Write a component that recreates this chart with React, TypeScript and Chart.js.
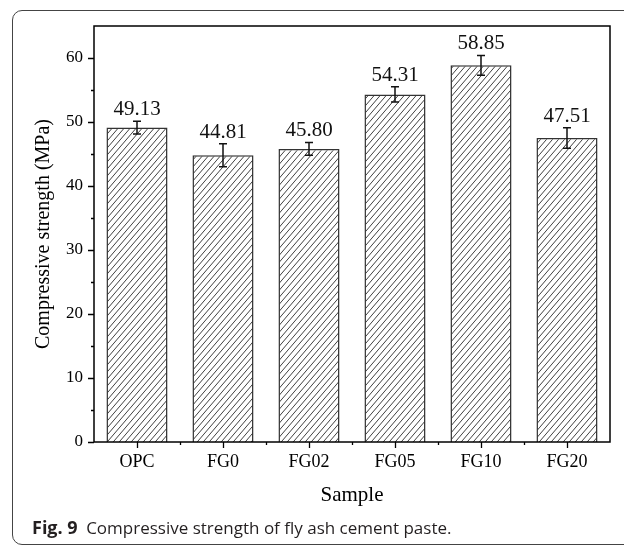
import React, { useEffect, useRef } from "react";
import { Chart, registerables } from "chart.js";

Chart.register(...registerables);

const categories = ["OPC", "FG0", "FG02", "FG05", "FG10", "FG20"];
const strengthValues = [49.13, 44.81, 45.8, 54.31, 58.85, 47.51];
const strengthErrors = [1.0, 1.8, 1.0, 1.2, 1.55, 1.6];
const yTickValues = [0, 10, 20, 30, 40, 50, 60];
const yMinorTicks = [5, 15, 25, 35, 45, 55];

const SERIF = '"Liberation Serif", "Times New Roman", serif';

function makeHatch(): CanvasPattern | string {
  const w = 6;
  const h = 7;
  const c = document.createElement("canvas");
  c.width = w;
  c.height = h;
  const g = c.getContext("2d");
  if (!g) return "#fff";
  g.fillStyle = "#ffffff";
  g.fillRect(0, 0, w, h);
  g.strokeStyle = "#2a2a2a";
  g.lineWidth = 0.9;
  for (const dx of [-w, 0, w]) {
    g.beginPath();
    g.moveTo(dx, h);
    g.lineTo(dx + w, 0);
    g.stroke();
  }
  const p = g.createPattern(c, "repeat");
  return p || "#fff";
}

const overlayPlugin = {
  id: "overlayPlugin",
  afterDatasetsDraw(chart: any) {
    const { ctx, chartArea: a, scales } = chart;
    const x = scales.x;
    const y = scales.y;
    ctx.save();
    // error bars + value labels
    ctx.strokeStyle = "#111";
    ctx.fillStyle = "#111";
    ctx.lineWidth = 1.5;
    strengthValues.forEach((v, i) => {
      const cx = x.getPixelForValue(i);
      const yt = y.getPixelForValue(v + strengthErrors[i]);
      const yb = y.getPixelForValue(v - strengthErrors[i]);
      ctx.beginPath();
      ctx.moveTo(cx, yt);
      ctx.lineTo(cx, yb);
      ctx.moveTo(cx - 4, yt);
      ctx.lineTo(cx + 4, yt);
      ctx.moveTo(cx - 4, yb);
      ctx.lineTo(cx + 4, yb);
      ctx.stroke();
      ctx.font = "21px " + SERIF;
      ctx.textAlign = "center";
      ctx.textBaseline = "alphabetic";
      ctx.fillText(v.toFixed(2), cx, yt - 6);
    });
    // frame box
    ctx.strokeStyle = "#000";
    ctx.lineWidth = 1.5;
    ctx.strokeRect(a.left, a.top, a.right - a.left, a.bottom - a.top);
    // y ticks
    ctx.lineWidth = 1.3;
    ctx.beginPath();
    yTickValues.forEach((t) => {
      const py = Math.round(y.getPixelForValue(t)) + 0.5;
      ctx.moveTo(a.left, py);
      ctx.lineTo(a.left - 6, py);
    });
    yMinorTicks.forEach((t) => {
      const py = Math.round(y.getPixelForValue(t)) + 0.5;
      ctx.moveTo(a.left, py);
      ctx.lineTo(a.left - 3, py);
    });
    // x ticks
    categories.forEach((_, i) => {
      const px = Math.round(x.getPixelForValue(i)) + 0.5;
      ctx.moveTo(px, a.bottom);
      ctx.lineTo(px, a.bottom + 6);
      if (i < categories.length - 1) {
        const bx = Math.round(x.getPixelForValue(i + 0.5)) + 0.5;
        ctx.moveTo(bx, a.bottom);
        ctx.lineTo(bx, a.bottom + 3);
      }
    });
    ctx.stroke();
    // axis titles
    ctx.fillStyle = "#000";
    ctx.font = "21px " + SERIF;
    ctx.textAlign = "center";
    ctx.textBaseline = "middle";
    ctx.fillText("Sample", (a.left + a.right) / 2, 495);
    ctx.save();
    ctx.font = "20px " + SERIF;
    ctx.translate(44, (a.top + a.bottom) / 2);
    ctx.rotate(-Math.PI / 2);
    ctx.fillText("Compressive strength (MPa)", 0, 0);
    ctx.restore();
    ctx.restore();
  },
};

export default function App() {
  const ref = useRef<HTMLCanvasElement | null>(null);

  useEffect(() => {
    if (!ref.current) return;
    const hatch = makeHatch();
    const chart = new Chart(ref.current, {
      type: "bar",
      data: {
        labels: categories,
        datasets: [
          {
            data: strengthValues,
            backgroundColor: hatch as any,
            borderColor: "#333",
            borderWidth: 1.5,
            barPercentage: 0.71,
            categoryPercentage: 1.0,
          },
        ],
      },
      options: {
        animation: false,
        responsive: false,
        devicePixelRatio: 1,
        layout: { padding: { left: 0, right: 14, top: 26, bottom: 0 } },
        plugins: {
          legend: { display: false },
          tooltip: { enabled: false },
        },
        scales: {
          x: {
            grid: { display: false, drawTicks: true, tickLength: 6 },
            border: { display: false },
            ticks: {
              font: { family: SERIF, size: 18 },
              color: "#000",
              padding: 3,
              maxRotation: 0,
            },
            afterFit: (s: any) => {
              s.height = 104;
            },
          },
          y: {
            min: 0,
            max: 65,
            grid: { display: false, drawTicks: true, tickLength: 6 },
            border: { display: false },
            ticks: {
              stepSize: 10,
              includeBounds: false,
              font: { family: SERIF, size: 17 },
              color: "#000",
              padding: 5,
            },
            afterFit: (s: any) => {
              s.width = 94;
            },
          },
        },
      },
      plugins: [overlayPlugin],
    });
    return () => chart.destroy();
  }, []);

  return (
    <div
      style={{
        position: "absolute",
        left: 0,
        top: 0,
        width: 624,
        height: 546,
        overflow: "hidden",
        background: "#fff",
      }}
    >
      <div
        style={{
          position: "absolute",
          left: 12,
          top: 10,
          width: 660,
          height: 533,
          border: "1.5px solid #444",
          borderRadius: 10,
        }}
      />
      <canvas
        ref={ref}
        width={624}
        height={546}
        style={{ position: "absolute", left: 0, top: 0, width: 624, height: 546 }}
      />
      <div
        style={{
          position: "absolute",
          left: 32,
          top: 516,
          fontFamily: '"Open Sans", "Noto Sans", sans-serif',
          fontSize: 17,
          lineHeight: "22px",
          color: "#231f20",
          whiteSpace: "nowrap",
        }}
      >
        <span style={{ fontWeight: 700, fontSize: 18 }}>Fig. 9</span>
        <span>{"\u2002Compressive strength of fly ash cement paste."}</span>
      </div>
    </div>
  );
}
